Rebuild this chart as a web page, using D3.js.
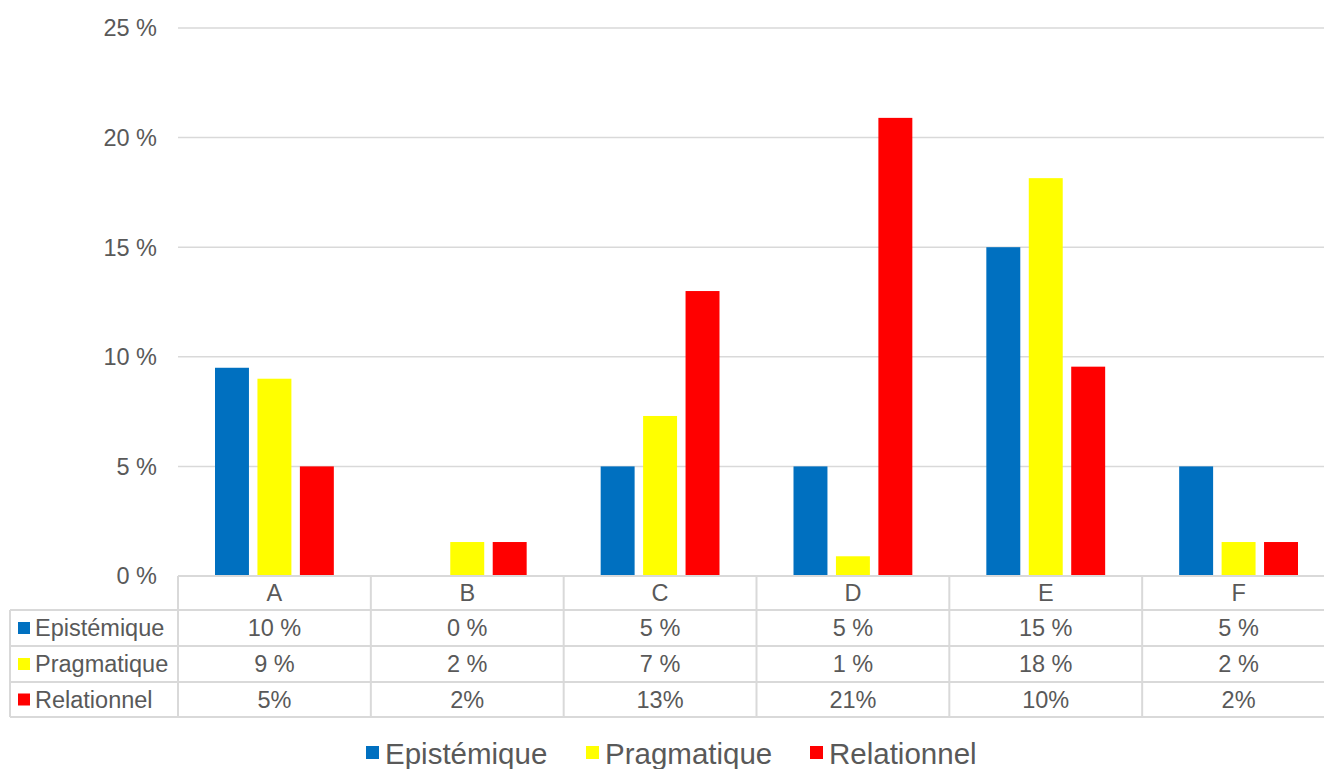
<!DOCTYPE html>
<html>
<head>
<meta charset="utf-8">
<script src="https://cdn.jsdelivr.net/npm/d3@7"></script>
<style>
  body { margin: 0; background: #fff; }
  svg { display: block; font-family: "Liberation Sans", Arial, sans-serif; }
</style>
</head>
<body>
<svg width="1324" height="769"></svg>
<script>
// categories and series
const categories = ["A", "B", "C", "D", "E", "F"];
const series = ["Epistémique", "Pragmatique", "Relationnel"];
const colors = ["#0070c0", "#ffff00", "#ff0000"];

// bar heights (%)
const epistemique = [9.5, 0, 5, 5, 15, 5];
const pragmatique = [9, 1.55, 7.3, 0.9, 18.15, 1.55];
const relationnel = [5, 1.55, 13, 20.9, 9.55, 1.55];

// labels shown in the data table
const epistemiqueLabels = ["10 %", "0 %", "5 %", "5 %", "15 %", "5 %"];
const pragmatiqueLabels = ["9 %", "2 %", "7 %", "1 %", "18 %", "2 %"];
const relationnelLabels = ["5%", "2%", "13%", "21%", "10%", "2%"];

const yTicks = [0, 5, 10, 15, 20, 25];

let values = [epistemique, pragmatique, relationnel];
let labels = [epistemiqueLabels, pragmatiqueLabels, relationnelLabels];

let svg = d3.select("svg");
let textColor = "#595959";
let lineColor = "#d9d9d9";
let fontSize = "23.5px";

let plotLeft = 178, plotRight = 1335;
let x0 = d3.scaleBand().domain(categories).range([plotLeft, plotRight]);
let bw = x0.bandwidth();
let x1 = d3.scaleBand().domain(series).range([37, bw - 37]).paddingInner(0.2);
let y = d3.scaleLinear().domain([0, 25]).range([576, 28]);

// gridlines
svg.append("g")
  .selectAll("line")
  .data(yTicks)
  .enter()
  .append("line")
  .attr("x1", plotLeft)
  .attr("x2", plotRight)
  .attr("y1", d => y(d))
  .attr("y2", d => y(d))
  .attr("stroke", lineColor)
  .attr("stroke-width", 1.5);

// y tick labels
svg.append("g")
  .selectAll("text")
  .data(yTicks)
  .enter()
  .append("text")
  .attr("x", 157)
  .attr("y", d => y(d))
  .attr("dy", "0.36em")
  .attr("text-anchor", "end")
  .attr("fill", textColor)
  .style("font-size", fontSize)
  .text(d => d + " %");

// bars
let groups = svg.append("g")
  .selectAll("g")
  .data(categories)
  .enter()
  .append("g")
  .attr("transform", d => `translate(${x0(d)},0)`);

groups.selectAll("rect")
  .data((c, i) => series.map((s, j) => ({ s: s, j: j, v: values[j][i] })))
  .enter()
  .append("rect")
  .attr("x", d => x1(d.s))
  .attr("width", x1.bandwidth())
  .attr("y", d => y(d.v))
  .attr("height", d => y(0) - y(d.v))
  .attr("fill", d => colors[d.j]);

// data table
let rowLines = [576, 610, 646, 682, 717];
let table = svg.append("g").attr("stroke", lineColor).attr("stroke-width", 2);

rowLines.forEach((ry, i) => {
  table.append("line")
    .attr("x1", i === 0 ? plotLeft : 10)
    .attr("x2", plotRight)
    .attr("y1", ry).attr("y2", ry);
});
table.append("line")
  .attr("x1", 10).attr("x2", 10)
  .attr("y1", rowLines[1]).attr("y2", rowLines[4]);
categories.concat(["end"]).forEach(c => {
  let cx = c === "end" ? plotRight : x0(c);
  table.append("line")
    .attr("x1", cx).attr("x2", cx)
    .attr("y1", rowLines[0]).attr("y2", rowLines[4]);
});

// header row: category names
svg.append("g")
  .selectAll("text")
  .data(categories)
  .enter()
  .append("text")
  .attr("x", d => x0(d) + bw / 2)
  .attr("y", (rowLines[0] + rowLines[1]) / 2)
  .attr("dy", "0.36em")
  .attr("text-anchor", "middle")
  .attr("fill", textColor)
  .style("font-size", fontSize)
  .text(d => d);

// body rows
series.forEach((s, j) => {
  let cy = (rowLines[j + 1] + rowLines[j + 2]) / 2;
  let row = svg.append("g");
  row.append("rect")
    .attr("x", 18).attr("y", cy - 6)
    .attr("width", 12).attr("height", 12)
    .attr("fill", colors[j]);
  row.append("text")
    .attr("x", 35).attr("y", cy)
    .attr("dy", "0.36em")
    .attr("fill", textColor)
    .style("font-size", fontSize)
    .text(s);
  row.selectAll("text.val")
    .data(categories)
    .enter()
    .append("text")
    .attr("class", "val")
    .attr("x", d => x0(d) + bw / 2)
    .attr("y", cy)
    .attr("dy", "0.36em")
    .attr("text-anchor", "middle")
    .attr("fill", textColor)
    .style("font-size", fontSize)
    .text((d, i) => labels[j][i]);
});

// legend
let legendX = [366, 586, 810];
let legend = svg.append("g")
  .selectAll("g")
  .data(series)
  .enter()
  .append("g")
  .attr("transform", (d, i) => `translate(${legendX[i]},753)`);
legend.append("rect")
  .attr("x", 0).attr("y", -7)
  .attr("width", 13).attr("height", 13)
  .attr("fill", (d, i) => colors[i]);
legend.append("text")
  .attr("x", 19)
  .attr("y", 0)
  .attr("dy", "0.36em")
  .attr("fill", textColor)
  .style("font-size", "29.5px")
  .text(d => d);
</script>
</body>
</html>
